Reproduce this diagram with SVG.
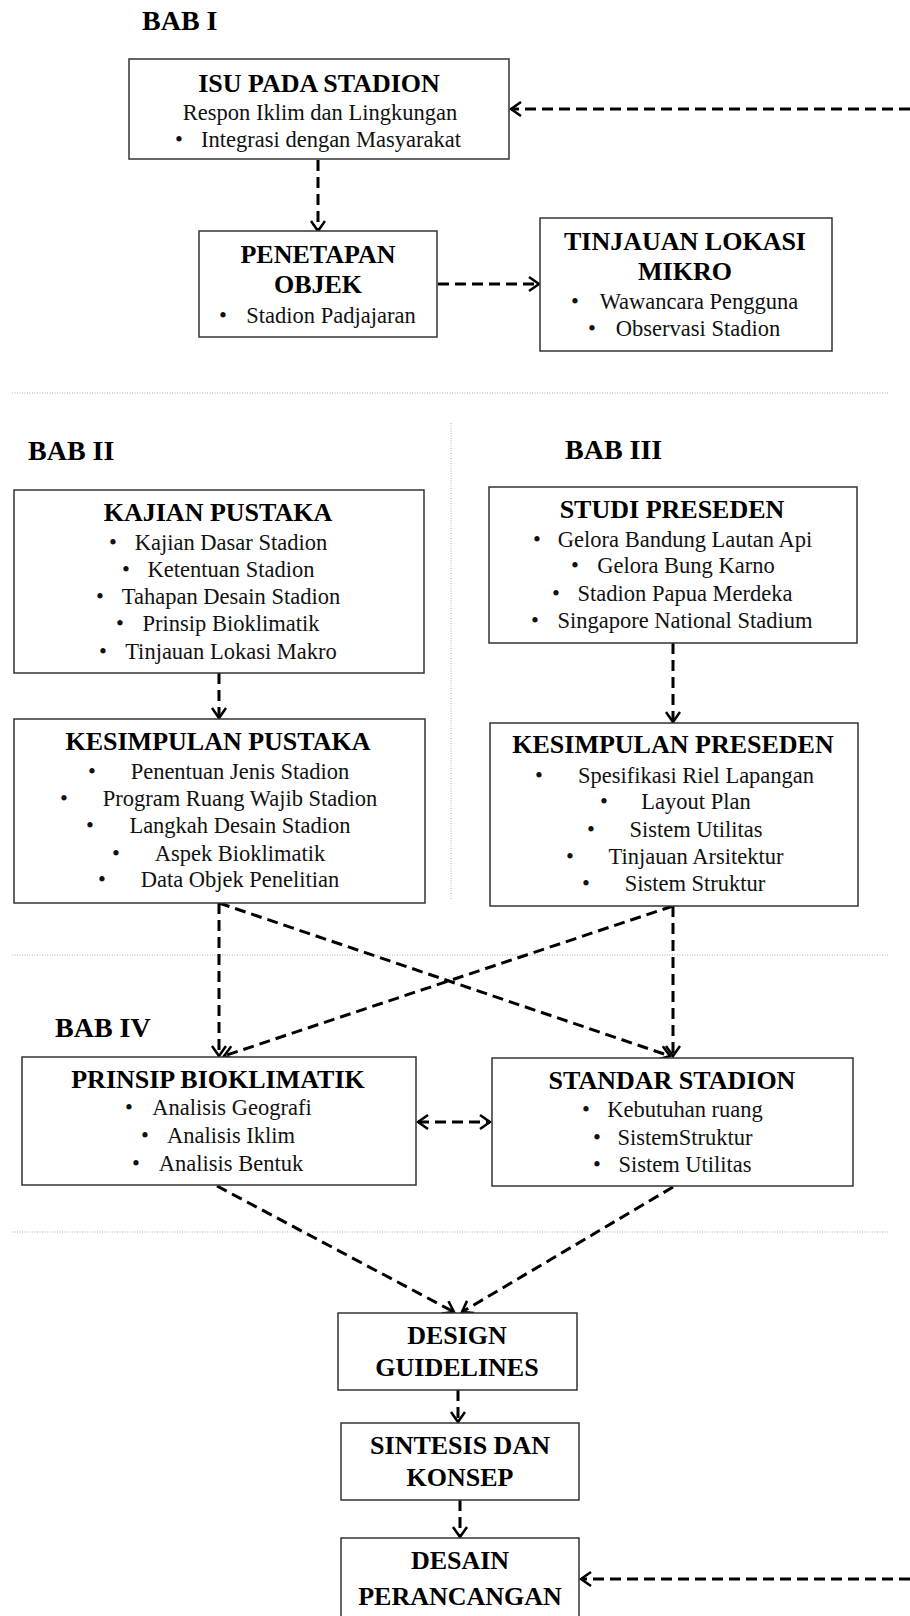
<svg xmlns="http://www.w3.org/2000/svg" width="910" height="1616" viewBox="0 0 910 1616">
<defs>
<style>
.box{fill:#fff;stroke:#333;stroke-width:1.5}
.t{font-family:'Liberation Serif','Times New Roman',serif;font-weight:bold;font-size:26px;text-anchor:middle;fill:#000}
.b{font-family:'Liberation Serif','Times New Roman',serif;font-size:22.5px;text-anchor:middle;fill:#111}
.bab{font-family:'Liberation Serif','Times New Roman',serif;font-weight:bold;font-size:28px;fill:#000}
.sep{stroke:#aaa;stroke-width:1;stroke-dasharray:1 1.5;fill:none}
.con{stroke:#000;stroke-width:3;stroke-dasharray:11 6;fill:none;marker-end:url(#ah)}
</style>
<marker id="ah" markerWidth="16" markerHeight="18" refX="12" refY="8" orient="auto-start-reverse" markerUnits="userSpaceOnUse">
<path d="M2,1 L12,8 L2,15" fill="none" stroke="#000" stroke-width="2.5" stroke-dasharray="none"/>
</marker>
</defs>
<rect width="910" height="1616" fill="#fff"/>

<g id="separators">
<line class="sep" x1="12" y1="393" x2="888" y2="393"/>
<line class="sep" x1="451" y1="423" x2="451" y2="900"/>
<line class="sep" x1="12" y1="955" x2="888" y2="955"/>
<line class="sep" x1="12" y1="1232" x2="888" y2="1232"/>
</g>

<g id="labels">
<text class="bab" x="142" y="30">BAB I</text>
<text class="bab" x="28" y="460">BAB II</text>
<text class="bab" x="565" y="459">BAB III</text>
<text class="bab" x="55" y="1037">BAB IV</text>
</g>

<g id="connectors">
<line class="con" x1="910" y1="109" x2="511" y2="109"/>
<line class="con" x1="318" y1="160" x2="318" y2="231"/>
<line class="con" x1="438" y1="284" x2="539" y2="284"/>
<line class="con" x1="219" y1="673" x2="219" y2="718"/>
<line class="con" x1="673" y1="643" x2="673" y2="722"/>
<line class="con" x1="219" y1="903" x2="219" y2="1056"/>
<line class="con" x1="219" y1="903" x2="670" y2="1056"/>
<line class="con" x1="673" y1="906" x2="224" y2="1056"/>
<line class="con" x1="673" y1="906" x2="673" y2="1056"/>
<line class="con" x1="418" y1="1122" x2="490" y2="1122" style="marker-start:url(#ah)"/>
<line class="con" x1="217" y1="1186" x2="454" y2="1312"/>
<line class="con" x1="673" y1="1187" x2="462" y2="1312"/>
<line class="con" x1="458" y1="1390" x2="458" y2="1422"/>
<line class="con" x1="460" y1="1500" x2="460" y2="1537"/>
<line class="con" x1="910" y1="1579" x2="581" y2="1579"/>
</g>

<g id="isu">
<rect class="box" x="129" y="59" width="380" height="100"/>
<text class="t" x="319" y="92">ISU PADA STADION</text>
<text class="b" x="320" y="120">Respon Iklim dan Lingkungan</text>
<text class="b" x="179" y="147">•</text>
<text class="b" x="331" y="147">Integrasi dengan Masyarakat</text>
</g>

<g id="penetapan">
<rect class="box" x="199" y="231" width="238" height="106"/>
<text class="t" x="318" y="263">PENETAPAN</text>
<text class="t" x="318" y="293">OBJEK</text>
<text class="b" x="223" y="323">•</text>
<text class="b" x="331" y="323">Stadion Padjajaran</text>
</g>

<g id="tinjauan">
<rect class="box" x="540" y="218" width="292" height="133"/>
<text class="t" x="685" y="250">TINJAUAN LOKASI</text>
<text class="t" x="685" y="280">MIKRO</text>
<text class="b" x="575" y="309">•</text>
<text class="b" x="699" y="309">Wawancara Pengguna</text>
<text class="b" x="592" y="336">•</text>
<text class="b" x="698" y="336">Observasi Stadion</text>
</g>

<g id="kajian">
<rect class="box" x="14" y="490" width="410" height="183"/>
<text class="t" x="218" y="521">KAJIAN PUSTAKA</text>
<text class="b" x="113" y="550">•</text><text class="b" x="231" y="550">Kajian Dasar Stadion</text>
<text class="b" x="126" y="577">•</text><text class="b" x="231" y="577">Ketentuan Stadion</text>
<text class="b" x="100" y="604">•</text><text class="b" x="231" y="604">Tahapan Desain Stadion</text>
<text class="b" x="120" y="631">•</text><text class="b" x="231" y="631">Prinsip Bioklimatik</text>
<text class="b" x="103" y="659">•</text><text class="b" x="231" y="659">Tinjauan Lokasi Makro</text>
</g>

<g id="studi">
<rect class="box" x="489" y="487" width="368" height="156"/>
<text class="t" x="672" y="518">STUDI PRESEDEN</text>
<text class="b" x="537" y="547">•</text><text class="b" x="685" y="547">Gelora Bandung Lautan Api</text>
<text class="b" x="575" y="573">•</text><text class="b" x="686" y="573">Gelora Bung Karno</text>
<text class="b" x="556" y="601">•</text><text class="b" x="685" y="601">Stadion Papua Merdeka</text>
<text class="b" x="535" y="628">•</text><text class="b" x="685" y="628">Singapore National Stadium</text>
</g>

<g id="kesimpulan-pustaka">
<rect class="box" x="14" y="719" width="411" height="184"/>
<text class="t" x="218" y="750">KESIMPULAN PUSTAKA</text>
<text class="b" x="92" y="779">•</text><text class="b" x="240" y="779">Penentuan Jenis Stadion</text>
<text class="b" x="64" y="806">•</text><text class="b" x="240" y="806">Program Ruang Wajib Stadion</text>
<text class="b" x="90" y="833">•</text><text class="b" x="240" y="833">Langkah Desain Stadion</text>
<text class="b" x="116" y="861">•</text><text class="b" x="240" y="861">Aspek Bioklimatik</text>
<text class="b" x="102" y="887">•</text><text class="b" x="240" y="887">Data Objek Penelitian</text>
</g>

<g id="kesimpulan-preseden">
<rect class="box" x="490" y="723" width="368" height="183"/>
<text class="t" x="673" y="753">KESIMPULAN PRESEDEN</text>
<text class="b" x="539" y="783">•</text><text class="b" x="696" y="783">Spesifikasi Riel Lapangan</text>
<text class="b" x="604" y="809">•</text><text class="b" x="696" y="809">Layout Plan</text>
<text class="b" x="591" y="837">•</text><text class="b" x="696" y="837">Sistem Utilitas</text>
<text class="b" x="570" y="864">•</text><text class="b" x="696" y="864">Tinjauan Arsitektur</text>
<text class="b" x="586" y="891">•</text><text class="b" x="695" y="891">Sistem Struktur</text>
</g>

<g id="prinsip">
<rect class="box" x="22" y="1057" width="394" height="128"/>
<text class="t" x="218" y="1088">PRINSIP BIOKLIMATIK</text>
<text class="b" x="129" y="1115">•</text><text class="b" x="232" y="1115">Analisis Geografi</text>
<text class="b" x="145" y="1143">•</text><text class="b" x="231" y="1143">Analisis Iklim</text>
<text class="b" x="136" y="1171">•</text><text class="b" x="231" y="1171">Analisis Bentuk</text>
</g>

<g id="standar">
<rect class="box" x="492" y="1058" width="361" height="128"/>
<text class="t" x="672" y="1089">STANDAR STADION</text>
<text class="b" x="586" y="1117">•</text><text class="b" x="685" y="1117">Kebutuhan ruang</text>
<text class="b" x="597" y="1145">•</text><text class="b" x="685" y="1145">SistemStruktur</text>
<text class="b" x="597" y="1172">•</text><text class="b" x="685" y="1172">Sistem Utilitas</text>
</g>

<g id="design">
<rect class="box" x="338" y="1313" width="239" height="77"/>
<text class="t" x="457" y="1344">DESIGN</text>
<text class="t" x="457" y="1376">GUIDELINES</text>
</g>

<g id="sintesis">
<rect class="box" x="341" y="1423" width="238" height="77"/>
<text class="t" x="460" y="1454">SINTESIS DAN</text>
<text class="t" x="460" y="1486">KONSEP</text>
</g>

<g id="desain">
<rect class="box" x="341" y="1538" width="238" height="90"/>
<text class="t" x="460" y="1569">DESAIN</text>
<text class="t" x="460" y="1605">PERANCANGAN</text>
</g>
</svg>
